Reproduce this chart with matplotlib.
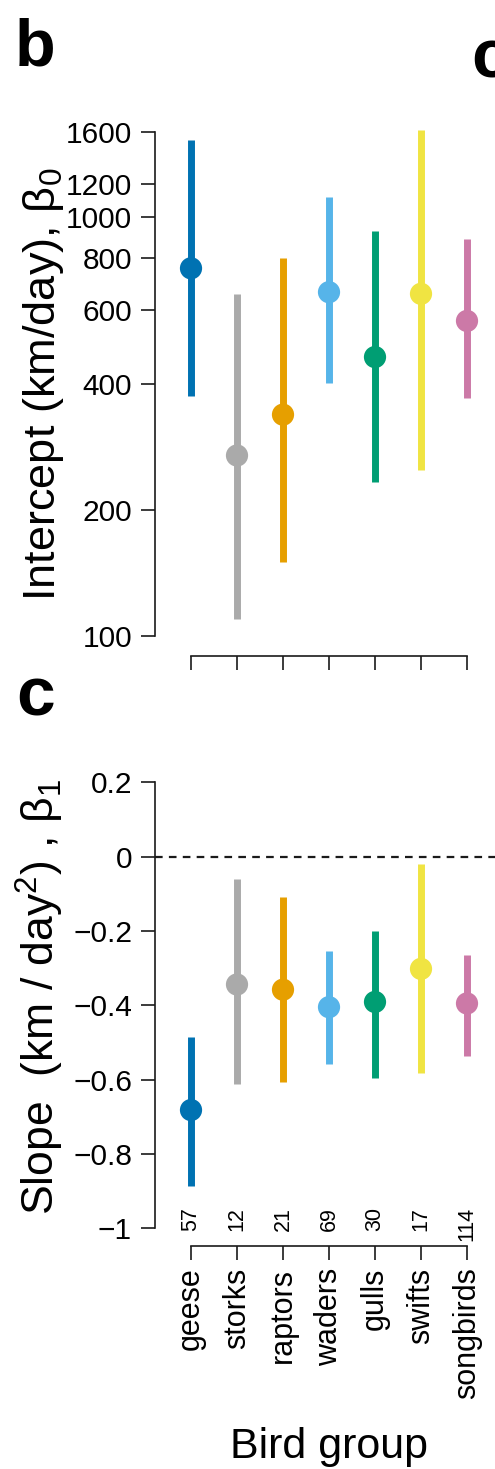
import matplotlib
matplotlib.use("Agg")
import matplotlib.pyplot as plt
import numpy as np

plt.rcParams['font.family'] = ['Liberation Sans', 'DejaVu Sans']
plt.rcParams['mathtext.fontset'] = 'custom'
plt.rcParams['mathtext.rm'] = 'Liberation Sans'
plt.rcParams['mathtext.it'] = 'Liberation Sans:italic'
plt.rcParams['mathtext.bf'] = 'Liberation Sans:bold'
plt.rcParams['mathtext.default'] = 'regular'
plt.rcParams['lines.scale_dashes'] = False

# ---- data ----
groups = ["geese", "storks", "raptors", "waders", "gulls", "swifts", "songbirds"]
counts = [57, 12, 21, 69, 30, 17, 114]
colors = ["#0072B2", "#AAAAAA", "#E69F00", "#56B4E9", "#009E73", "#F0E442", "#CC79A7"]

intercept_mid = [756, 270, 338, 663, 464, 657, 566]
intercept_lo = [375, 110, 150, 403, 233, 249, 370]
intercept_hi = [1528, 655, 800, 1119, 926, 1620, 886]

slope_mid = [-0.682, -0.344, -0.358, -0.405, -0.391, -0.302, -0.395]
slope_lo = [-0.886, -0.613, -0.607, -0.559, -0.596, -0.583, -0.537]
slope_hi = [-0.484, -0.059, -0.108, -0.255, -0.199, -0.019, -0.265]

int_ticks = [100, 200, 400, 600, 800, 1000, 1200, 1600]
slope_ticks = [-1, -0.8, -0.6, -0.4, -0.2, 0, 0.2]
slope_ticklabels = ["\u22121", "\u22120.8", "\u22120.6", "\u22120.4", "\u22120.2", "0", "0.2"]

# ---- layout ----
W, H = 495, 1469
fig = plt.figure(figsize=(W / 100, H / 100), dpi=100)

def rect(l, t, r, b):
    return [l / W, 1 - b / H, (r - l) / W, (b - t) / H]

x = np.arange(1, len(groups) + 1)
xlim = (1 - 36 / 46, 1 - 36 / 46 + (495 - 155) / 46)

ax1 = fig.add_axes(rect(155, 110, 495, 645))
ax2 = fig.add_axes(rect(155, 775, 495, 1236))

spine_col = "#1a1a1a"
for ax in (ax1, ax2):
    ax.set_xlim(*xlim)
    for s in ("top", "right"):
        ax.spines[s].set_visible(False)
    for s in ("left", "bottom"):
        ax.spines[s].set_linewidth(1.2)
        ax.spines[s].set_color(spine_col)
    ax.spines["bottom"].set_bounds(1, len(groups))
    ax.set_xticks(x)
    ax.tick_params(axis="both", length=10, width=1.2, color=spine_col)
    ax.tick_params(axis="y", labelsize=21.5, pad=6.5)
    ax.patch.set_visible(False)

# ---- panel b: intercept ----
ax1.set_yscale("log")
ax1.set_ylim(95.2, 1806)
ax1.spines["left"].set_bounds(100, 1600)
ax1.spines["bottom"].set_position(("outward", 7.9))
ax1.set_yticks(int_ticks)
ax1.set_yticklabels([str(t) for t in int_ticks])
ax1.yaxis.set_minor_locator(matplotlib.ticker.NullLocator())
ax1.set_xticklabels([])
lc = ax1.vlines(x, intercept_lo, intercept_hi, colors=colors, linewidth=5)
lc.set_capstyle("butt")
ax1.scatter(x, intercept_mid, s=16 ** 2, c=colors, zorder=3, linewidths=0)
ax1.set_ylabel(r"Intercept (km/day), $\beta_0$", fontsize=32.5)
ax1.yaxis.set_label_coords(66 / W, 1 - 384 / H, transform=fig.transFigure)

# ---- panel c: slope ----
ax2.set_ylim(-1.021, 0.2199)
ax2.spines["left"].set_bounds(-1, 0.2)
ax2.spines["bottom"].set_position(("outward", 7.2))
ax2.set_yticks(slope_ticks)
ax2.set_yticklabels(slope_ticklabels)
ax2.axhline(0, color="#1a1a1a", linewidth=1.6, linestyle=(0, (5.5, 4.5)), zorder=1)
lc2 = ax2.vlines(x, slope_lo, slope_hi, colors=colors, linewidth=5)
lc2.set_capstyle("butt")
ax2.scatter(x, slope_mid, s=16 ** 2, c=colors, zorder=3, linewidths=0)
ax2.set_xticklabels(groups, rotation=90, fontsize=22)
ax2.tick_params(axis="x", pad=5.5)
ax2.set_ylabel(r"Slope  (km / day$^2$) , $\beta_1$", fontsize=32)
ax2.yaxis.set_label_coords(66 / W, 1 - 997 / H, transform=fig.transFigure)
ax2.set_xlabel("Bird group", fontsize=31)
ax2.xaxis.set_label_coords(329 / W, 1 - 1427 / H, transform=fig.transFigure)

for xi, n in zip(x, counts):
    ax2.annotate(str(n), xy=(xi, 0), xycoords=ax2.get_xaxis_transform(),
                 xytext=(0, 20.9), textcoords="offset points",
                 rotation=90, ha="center", va="top", fontsize=15.5)

# ---- panel letters ----
fig.text(15 / W, 1 - 65 / H, "b", fontsize=48, fontweight="bold", va="baseline", ha="left")
fig.text(16 / W, 1 - 716 / H, "c", fontsize=50, fontweight="bold", va="baseline", ha="left")
fig.text(471 / W, 1 - 78 / H, "c", fontsize=50, fontweight="bold", va="baseline", ha="left")

fig.savefig("out.png", dpi=100)
